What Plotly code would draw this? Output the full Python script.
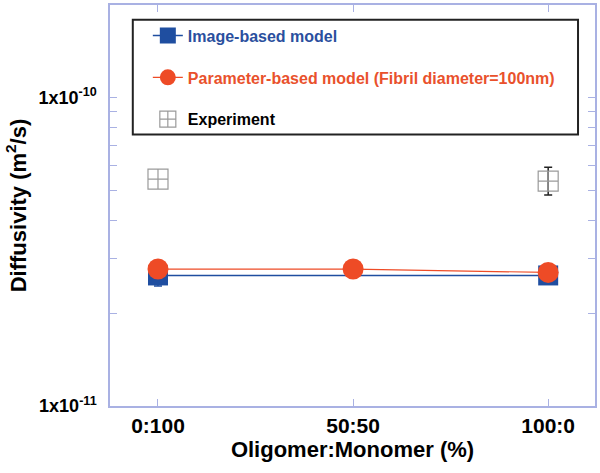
import plotly.graph_objects as go

categories = ["0:100", "50:50", "100:0"]

image_x = ["0:100", "100:0"]
image_y = [2.65e-11, 2.65e-11]

image_err_x = ["0:100"]
image_err_y = [2.65e-11]
image_err_minus = [0.2e-11]

param_x = ["0:100", "50:50", "100:0"]
param_y = [2.78e-11, 2.78e-11, 2.71e-11]

exp_x = ["0:100", "100:0"]
exp_y = [5.44e-11, 5.36e-11]

exp_err_x = ["100:0"]
exp_err_y = [5.36e-11]
exp_err_plus = [0.58e-11]
exp_err_minus = [0.53e-11]

y_tickvals = [1e-11, 2e-11, 3e-11, 4e-11, 5e-11, 6e-11, 7e-11, 8e-11, 9e-11, 1e-10]
y_ticktext = ["1x10<sup>-11</sup>", "", "", "", "", "", "", "", "", "1x10<sup>-10</sup>"]

BLUE = "#1f4ea0"
RED = "#ee4b26"
AXIS = "#a9b1e3"
FONT = "Liberation Sans, Arial, sans-serif"

fig = go.Figure()
# error bar of image-based model (drawn beneath markers)
fig.add_trace(go.Scatter(
    x=image_err_x, y=image_err_y, mode="markers", showlegend=False, hoverinfo="skip",
    marker=dict(size=1, opacity=0),
    error_y=dict(type="data", symmetric=False, array=[0], arrayminus=image_err_minus,
                 color=BLUE, thickness=1.5, width=4),
))
fig.add_trace(go.Scatter(
    x=image_x, y=image_y, mode="lines+markers",
    name="<span style='color:#2a4f9e'>Image-based model</span>",
    legendgroup="a",
    line=dict(color=BLUE, width=1.5),
    marker=dict(symbol="square", size=20, color=BLUE),
))
fig.add_trace(go.Scatter(
    x=param_x, y=param_y, mode="lines+markers",
    name="<span style='color:#e9512c'>Parameter-based model (Fibril diameter=100nm)</span>",
    legendgroup="b",
    line=dict(color=RED, width=1.2),
    marker=dict(symbol="circle", size=21, color=RED),
))
fig.add_trace(go.Scatter(
    x=exp_err_x, y=exp_err_y, mode="markers", showlegend=False, hoverinfo="skip",
    marker=dict(size=1, opacity=0),
    error_y=dict(type="data", symmetric=False, array=exp_err_plus, arrayminus=exp_err_minus,
                 color="#222222", thickness=1.5, width=4),
))
fig.add_trace(go.Scatter(
    x=exp_x, y=exp_y, mode="markers", name="Experiment",
    legendgroup="c",
    marker=dict(symbol="square-cross-open", size=20, color="#9a9a9a", line=dict(width=1.2)),
))

fig.update_layout(
    width=600, height=473,
    margin=dict(l=110, r=5, t=3, b=67),
    paper_bgcolor="white", plot_bgcolor="white",
    font=dict(family=FONT, color="black"),
    showlegend=True,
    legend=dict(
        x=0.078, y=0.966, xanchor="left", yanchor="top",
        bgcolor="rgba(0,0,0,0)", borderwidth=0,
        font=dict(family=FONT, size=16, weight="bold", color="black"),
        tracegroupgap=18, traceorder="grouped",
        itemsizing="trace",
    ),
    shapes=[dict(type="rect", xref="paper", yref="paper",
                 x0=0.047, x1=0.965, y0=0.677, y1=0.963,
                 line=dict(color="#222222", width=2), fillcolor="rgba(0,0,0,0)")],
)

fig.update_xaxes(
    type="category", categoryorder="array", categoryarray=categories,
    range=[-0.246, 2.24],
    showline=True, linecolor=AXIS, linewidth=1.5, mirror="ticks",
    ticks="inside", ticklen=7, tickcolor=AXIS, tickwidth=1,
    showgrid=False, zeroline=False,
    tickfont=dict(family=FONT, size=21, weight="bold"),
    title=dict(text="Oligomer:Monomer (%)", font=dict(family=FONT, size=22, weight="bold"), standoff=2),
)
fig.update_yaxes(
    type="log", range=[-11, -9.70],
    tickmode="array", tickvals=y_tickvals, ticktext=y_ticktext,
    showline=True, linecolor=AXIS, linewidth=1.5, mirror="ticks",
    ticks="inside", ticklen=7, tickcolor=AXIS, tickwidth=1,
    showgrid=False, zeroline=False,
    ticklabelstandoff=8,
    tickfont=dict(family=FONT, size=18, weight="bold"),
    title=dict(text="Diffusivity (m<sup>2</sup>/s)", font=dict(family=FONT, size=22, weight="bold"), standoff=6),
)

fig.write_html("out.html", config={"displayModeBar": False},
               post_script="document.body.style.margin='0';")
